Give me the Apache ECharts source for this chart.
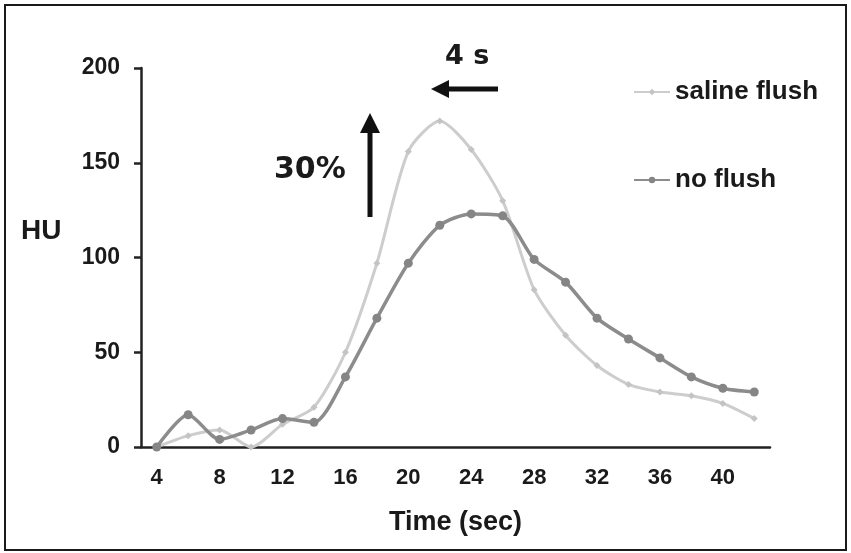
<!DOCTYPE html>
<html>
<head>
<meta charset="utf-8">
<script src="https://cdn.jsdelivr.net/npm/echarts@6/dist/echarts.min.js"></script>
<style>
  html, body { margin: 0; padding: 0; background: #fff; }
  #frame { position: absolute; left: 4px; top: 4px; width: 839px; height: 543px; border: 2px solid #1a1a1a; }
  #chart { position: absolute; left: 0; top: 0; width: 851px; height: 553px; }
</style>
</head>
<body>
<div id="frame"></div>
<div id="chart"></div>
<script>
const times = ['4', '6', '8', '10', '12', '14', '16', '18', '20', '22', '24', '26', '28', '30', '32', '34', '36', '38', '40', '42']
const salineFlush = [0, 6, 9, 0, 12, 21, 50, 97, 156, 172, 157, 130, 83, 59, 43, 33, 29, 27, 23, 15]
const noFlush = [0, 17, 4, 9, 15, 13, 37, 68, 97, 117, 123, 122, 99, 87, 68, 57, 47, 37, 31, 29]
const yTicks = [0, 50, 100, 150, 200]

const font = '"Liberation Sans", Arial, sans-serif'
const wideFont = '"DejaVu Sans", Verdana, sans-serif'
const chart = echarts.init(document.getElementById('chart'))

function arrow(x1, y1, x2, y2, hl, hw) {
  // shaft + head, head tip sits at (x2, y2)
  const dx = x2 - x1, dy = y2 - y1
  const len = Math.sqrt(dx * dx + dy * dy)
  const ux = dx / len, uy = dy / len
  const bx = x2 - ux * hl, by = y2 - uy * hl
  return [
    { type: 'line', shape: { x1: x1, y1: y1, x2: bx + ux * 2, y2: by + uy * 2 }, style: { stroke: '#111', lineWidth: 5 } },
    { type: 'polygon', shape: { points: [[x2, y2], [bx - uy * hw, by + ux * hw], [bx + uy * hw, by - ux * hw]] }, style: { fill: '#111' } }
  ]
}

chart.setOption({
  animation: false,
  grid: { left: 141, right: 81, top: 68, bottom: 106 },
  legend: {
    orient: 'vertical',
    left: 628,
    top: 74,
    itemWidth: 36,
    itemHeight: 8,
    itemGap: 62,
    textStyle: { fontFamily: font, fontWeight: 'bold', fontSize: 26, color: '#1a1a1a' },
    data: ['saline flush', 'no flush']
  },
  xAxis: {
    type: 'category',
    data: times,
    boundaryGap: true,
    name: 'Time (sec)',
    nameLocation: 'middle',
    nameGap: 62,
    nameTextStyle: { fontFamily: font, fontWeight: 'bold', fontSize: 27, color: '#1a1a1a' },
    axisLine: { lineStyle: { color: '#222', width: 2.5 } },
    axisTick: { interval: 0, length: 7, lineStyle: { color: '#222', width: 2.5 } },
    axisLabel: { interval: 1, margin: 20, fontFamily: font, fontWeight: 'bold', fontSize: 22, color: '#1a1a1a' }
  },
  yAxis: {
    type: 'value',
    min: 0,
    max: 200,
    interval: 50,
    splitLine: { show: false },
    axisLine: { show: true, lineStyle: { color: '#222', width: 2.5 } },
    axisTick: { show: true, length: 7, lineStyle: { color: '#222', width: 2.5 } },
    axisLabel: {
      margin: 21, fontFamily: font, fontWeight: 'bold', fontSize: 23, color: '#1a1a1a',
      customValues: yTicks
    }
  },
  series: [
    {
      name: 'saline flush',
      type: 'line',
      data: salineFlush,
      smooth: 0.25,
      symbol: 'diamond',
      symbolSize: 7,
      lineStyle: { color: '#cdcdcd', width: 3 },
      itemStyle: { color: '#c4c4c4' },
      z: 2
    },
    {
      name: 'no flush',
      type: 'line',
      data: noFlush,
      smooth: 0.25,
      symbol: 'circle',
      symbolSize: 9,
      lineStyle: { color: '#8c8c8c', width: 3.5 },
      itemStyle: { color: '#858585' },
      z: 3
    }
  ],
  graphic: [
    { type: 'text', left: 21, top: 217, style: { text: 'HU', fontFamily: font, fontWeight: 'bold', fontSize: 28, fill: '#1a1a1a' } },
    { type: 'text', left: 274, top: 155, style: { text: '30%', fontFamily: wideFont, fontWeight: 'bold', fontSize: 30, fill: '#1a1a1a' } },
    { type: 'text', left: 445, top: 43, style: { text: '4 s', fontFamily: wideFont, fontWeight: 'bold', fontSize: 27, fill: '#1a1a1a' } }
  ].concat(arrow(370, 217, 370, 113, 20, 10), arrow(498, 89, 431, 89, 18, 9))
})
</script>
</body>
</html>
